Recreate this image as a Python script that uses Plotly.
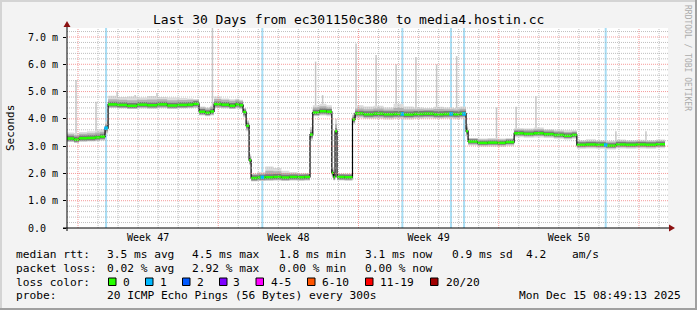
import plotly.graph_objects as go

# ---------------- data (time in days from graph start, values in ms) ----------------
t_days = [0.00, 0.35, 0.60, 1.00, 1.40, 1.65, 1.90,
          2.05, 2.50, 3.00, 3.50, 4.00, 4.50, 5.00, 5.50, 6.00, 6.30, 6.59, 6.90, 7.15, 7.34,
          7.70, 8.10, 8.40, 8.60, 8.79, 8.94, 9.09, 9.19,
          9.50, 9.90, 10.30, 10.70, 11.10, 11.50, 11.85, 12.13, 12.27, 12.60, 12.95,
          13.22, 13.30, 13.38, 13.48, 13.85, 14.25, 14.38,
          14.80, 15.30, 15.80, 16.30, 16.80, 17.30, 17.80, 18.30, 18.80, 19.30, 19.60, 19.92, 20.02,
          20.50, 21.00, 21.50, 21.90, 22.32,
          22.80, 23.30, 23.80, 24.30, 24.80, 25.20, 25.45,
          25.90, 26.40, 26.90, 27.40, 27.90, 28.40, 28.90, 29.40, 29.85]
median_ms = [3.28, 3.24, 3.29, 3.30, 3.32, 3.35, 3.66,
             4.53, 4.51, 4.48, 4.52, 4.50, 4.53, 4.49, 4.51, 4.52, 4.55, 4.26, 4.22, 4.27, 4.54,
             4.52, 4.48, 4.53, 4.50, 4.25, 3.75, 2.49, 1.83,
             1.85, 1.86, 1.87, 1.85, 1.87, 1.86, 1.87, 3.42, 4.23, 4.28, 4.26,
             2.02, 1.87, 3.55, 1.87, 1.86, 3.98, 4.20,
             4.17, 4.19, 4.17, 4.18, 4.16, 4.18, 4.19, 4.17, 4.18, 4.17, 4.19, 3.55, 3.17,
             3.12, 3.13, 3.12, 3.15, 3.47,
             3.45, 3.47, 3.44, 3.41, 3.38, 3.41, 3.05,
             3.06, 3.05, 3.02, 3.06, 3.05, 3.06, 3.05, 3.07, 3.07]
# outer smoke (lightest)
smoke_lo = [3.15, 3.12, 3.16, 3.17, 3.18, 3.20, 3.45,
            4.40, 4.38, 4.36, 4.38, 4.37, 4.39, 4.37, 4.38, 4.39, 4.40, 4.12, 4.10, 4.12, 4.40,
            4.38, 4.36, 4.38, 4.35, 4.05, 3.55, 2.30, 1.70,
            1.72, 1.72, 1.73, 1.72, 1.73, 1.72, 1.73, 3.20, 4.10, 4.12, 4.10,
            1.85, 1.74, 3.35, 1.74, 1.73, 3.80, 4.02,
            4.00, 4.00, 3.98, 4.00, 3.98, 4.00, 4.01, 4.00, 4.01, 3.99, 4.01, 3.35, 3.02,
            2.98, 2.98, 2.97, 3.00, 3.33,
            3.31, 3.32, 3.30, 3.27, 3.24, 3.27, 2.90,
            2.91, 2.90, 2.88, 2.91, 2.90, 2.91, 2.90, 2.92, 2.92]
smoke_hi = [3.50, 3.48, 3.52, 3.55, 3.58, 3.62, 3.90,
            4.85, 4.80, 4.82, 4.78, 4.84, 4.80, 4.78, 4.76, 4.75, 4.72, 4.45, 4.42, 4.48, 4.82,
            4.75, 4.72, 4.74, 4.70, 4.40, 3.95, 2.70, 2.00,
            2.05, 2.25, 2.20, 2.10, 2.05, 2.02, 2.02, 3.70, 4.50, 4.55, 4.50,
            2.20, 2.05, 4.00, 2.00, 2.00, 4.20, 4.50,
            4.45, 4.48, 4.42, 4.55, 4.45, 4.42, 4.40, 4.44, 4.42, 4.40, 4.45, 3.80, 3.30,
            3.28, 3.30, 3.28, 3.30, 3.66,
            3.65, 3.68, 3.62, 3.60, 3.58, 3.58, 3.22,
            3.25, 3.22, 3.20, 3.24, 3.22, 3.23, 3.22, 3.24, 3.22]
# middle smoke
mid_lo = [3.17, 3.13, 3.18, 3.19, 3.21, 3.23, 3.50,
          4.42, 4.40, 4.37, 4.41, 4.39, 4.42, 4.38, 4.40, 4.41, 4.43, 4.14, 4.11, 4.15, 4.42,
          4.41, 4.37, 4.42, 4.39, 4.10, 3.60, 2.35, 1.72,
          1.74, 1.75, 1.76, 1.74, 1.76, 1.75, 1.76, 3.27, 4.12, 4.16, 4.14,
          1.90, 1.76, 3.42, 1.76, 1.75, 3.85, 4.08,
          4.04, 4.05, 4.03, 4.05, 4.03, 4.05, 4.06, 4.04, 4.05, 4.04, 4.06, 3.40, 3.06,
          3.02, 3.03, 3.02, 3.05, 3.37,
          3.35, 3.37, 3.34, 3.31, 3.28, 3.31, 2.95,
          2.96, 2.95, 2.92, 2.96, 2.95, 2.96, 2.95, 2.97, 2.97]
mid_hi = [3.44, 3.40, 3.45, 3.47, 3.50, 3.53, 3.82,
          4.72, 4.70, 4.68, 4.70, 4.71, 4.72, 4.68, 4.69, 4.70, 4.70, 4.42, 4.38, 4.44, 4.73,
          4.70, 4.66, 4.70, 4.66, 4.38, 3.90, 2.65, 1.97,
          2.00, 2.10, 2.08, 2.02, 2.00, 1.98, 1.98, 3.60, 4.42, 4.46, 4.42,
          2.16, 2.00, 3.80, 1.98, 1.98, 4.14, 4.38,
          4.35, 4.38, 4.34, 4.40, 4.35, 4.35, 4.34, 4.36, 4.35, 4.34, 4.37, 3.72, 3.28,
          3.24, 3.25, 3.24, 3.26, 3.61,
          3.60, 3.62, 3.58, 3.55, 3.52, 3.54, 3.18,
          3.19, 3.18, 3.16, 3.20, 3.18, 3.19, 3.18, 3.20, 3.20]
# core smoke (darkest)
core_lo = [3.20, 3.16, 3.21, 3.22, 3.24, 3.27, 3.56,
           4.45, 4.43, 4.40, 4.44, 4.42, 4.45, 4.41, 4.43, 4.44, 4.47, 4.18, 4.14, 4.19, 4.46,
           4.44, 4.40, 4.45, 4.42, 4.15, 3.66, 2.40, 1.75,
           1.77, 1.78, 1.79, 1.77, 1.79, 1.78, 1.79, 3.32, 4.15, 4.20, 4.18,
           1.94, 1.79, 3.46, 1.79, 1.78, 3.89, 4.12,
           4.08, 4.10, 4.08, 4.09, 4.07, 4.09, 4.10, 4.08, 4.09, 4.08, 4.10, 3.46, 3.10,
           3.05, 3.06, 3.05, 3.08, 3.40,
           3.38, 3.40, 3.37, 3.34, 3.31, 3.34, 2.98,
           2.99, 2.98, 2.95, 2.99, 2.98, 2.99, 2.98, 3.00, 3.00]
core_hi = [3.38, 3.34, 3.39, 3.40, 3.42, 3.45, 3.76,
           4.63, 4.61, 4.58, 4.62, 4.60, 4.63, 4.59, 4.61, 4.62, 4.65, 4.36, 4.32, 4.37, 4.64,
           4.62, 4.58, 4.63, 4.60, 4.34, 3.85, 2.58, 1.93,
           1.95, 1.97, 1.98, 1.95, 1.96, 1.95, 1.96, 3.52, 4.33, 4.38, 4.36,
           2.12, 1.96, 3.66, 1.96, 1.95, 4.08, 4.30,
           4.28, 4.30, 4.28, 4.29, 4.27, 4.29, 4.30, 4.28, 4.29, 4.28, 4.30, 3.65, 3.25,
           3.20, 3.21, 3.20, 3.23, 3.56,
           3.54, 3.56, 3.53, 3.50, 3.47, 3.50, 3.14,
           3.15, 3.14, 3.11, 3.15, 3.14, 3.15, 3.14, 3.16, 3.16]

spike_t = [0.45, 1.45, 2.50, 3.40, 4.49, 7.26, 8.14, 12.41, 12.76, 14.43, 15.43, 16.43,
           17.42, 18.45, 19.45, 21.44, 22.42, 23.41, 27.40, 28.90]
spike_top = [5.42, 4.63, 5.00, 4.87, 4.95, 7.33, 4.70, 6.10, 4.87, 6.76, 6.34, 6.00,
             6.27, 6.00, 6.30, 4.42, 4.44, 4.83, 3.55, 3.55]
spike_base = [3.45, 3.50, 4.70, 4.70, 4.70, 4.40, 4.65, 4.40, 4.40, 4.35, 4.35, 4.35,
              4.35, 4.35, 4.35, 3.25, 3.60, 3.60, 3.20, 3.20]

loss_t = [1.95, 9.75, 16.74, 19.17, 19.82, 26.89]
loss_med = [3.66, 1.86, 4.18, 4.18, 4.18, 3.04]

week_starts = [0.55, 7.55, 14.55, 21.55, 28.55]
week_centers = [4.05, 11.05, 18.05, 25.05]
week_labels = ["Week 47", "Week 48", "Week 49", "Week 50"]
y_tickvals = [0, 1, 2, 3, 4, 5, 6, 7]
y_ticktext = ["0.0\u00a0\u00a0", "1.0 m", "2.0 m", "3.0 m", "4.0 m", "5.0 m", "6.0 m", "7.0 m"]

title_text = "Last 30 Days from ec301150c380 to media4.hostin.cc"
rtt_label = "median rtt:"
rtt_stats = ["3.5 ms avg", "4.5 ms max", "1.8 ms min", "3.1 ms now", "0.9 ms sd", "4.2", "am/s"]
loss_label = "packet loss:"
loss_stats = ["0.02 % avg", "2.92 % max", "0.00 % min", "0.00 % now"]
color_label = "loss color:"
loss_color_names = ["0", "1", "2", "3", "4-5", "6-10", "11-19", "20/20"]
loss_colors = ["#26ff00", "#00b8ff", "#0059ff", "#7e00ff", "#ff00ff", "#ff5500", "#ff0000", "#a00000"]
probe_label = "probe:"
probe_text = "20 ICMP Echo Pings (56 Bytes) every 300s"
date_text = "Mon Dec 15 08:49:13 2025"

# ---------------- layout geometry (pixels) ----------------
W, H = 697, 310
PL, PR, PT, PB = 67, 668, 28, 228
YMAX = 7.33
XMAX = 30.0
MONO = "DejaVu Sans Mono"


def px(xp):
    return (xp - PL) / (PR - PL)


def py(yp):
    return (PB - yp) / (PB - PT)


fig = go.Figure()

# loss indicator bars (full height)
lx, ly = [], []
for t in loss_t:
    lx += [t, t, None]
    ly += [0, YMAX, None]
fig.add_trace(go.Scatter(x=lx, y=ly, mode="lines", line=dict(color="#a8def5", width=2),
                         hoverinfo="skip", showlegend=False))

# spikes (behind smoke)
sx, sy = [], []
for t, b, top in zip(spike_t, spike_base, spike_top):
    sx += [t, t, None]
    sy += [b, top, None]
fig.add_trace(go.Scatter(x=sx, y=sy, mode="lines", line=dict(color="#c8c8c8", width=1.5),
                         hoverinfo="skip", showlegend=False))

# smoke bands
for lo, hi, col in [(smoke_lo, smoke_hi, "#dcdcdc"), (mid_lo, mid_hi, "#b2b2b2"), (core_lo, core_hi, "#7a7a7a")]:
    fig.add_trace(go.Scatter(x=t_days, y=lo, mode="lines", line=dict(width=0, shape="hv"),
                             hoverinfo="skip", showlegend=False))
    fig.add_trace(go.Scatter(x=t_days, y=hi, mode="lines", line=dict(width=0, shape="hv"),
                             fill="tonexty", fillcolor=col, hoverinfo="skip", showlegend=False))

# median: black step line + green horizontal pieces
fig.add_trace(go.Scatter(x=t_days, y=median_ms, mode="lines", line=dict(color="#000000", width=1.2, shape="hv"),
                         hoverinfo="skip", showlegend=False))
gx, gy = [], []
for i in range(len(t_days) - 1):
    gx += [t_days[i], t_days[i + 1], None]
    gy += [median_ms[i], median_ms[i], None]
fig.add_trace(go.Scatter(x=gx, y=gy, mode="lines", line=dict(color=loss_colors[0], width=2.5),
                         hoverinfo="skip", showlegend=False))
fig.add_trace(go.Scatter(x=loss_t, y=loss_med, mode="markers",
                         marker=dict(color=loss_colors[1], size=3.5, symbol="square"),
                         hoverinfo="skip", showlegend=False))

shapes = []
# grid (drawn over the data, like rrdtool)
gray = "rgba(170,170,170,0.75)"
red = "rgba(240,120,120,0.75)"
ylines = [round(0.2 * k, 1) for k in range(1, 37)]
for yv in ylines:
    if yv > YMAX:
        break
    major = abs(yv - round(yv)) < 1e-6
    shapes.append(dict(type="line", xref="x", yref="y", x0=0, x1=XMAX, y0=yv, y1=yv, layer="above",
                       line=dict(color=red if major else gray, width=1, dash="1px,1px")))
d = week_starts[0]
while d < XMAX:
    major = any(abs(d - w) < 1e-6 for w in week_starts)
    shapes.append(dict(type="line", xref="x", yref="y", x0=d, x1=d, y0=0, y1=YMAX, layer="above",
                       line=dict(color=red if major else gray, width=1, dash="1px,1px")))
    d = round(d + 1, 2)

# axes with arrows
axc = "#000000"
shapes.append(dict(type="line", xref="paper", yref="paper", x0=0, x1=0, y0=py(231), y1=py(24),
                   line=dict(color=axc, width=1)))
shapes.append(dict(type="line", xref="paper", yref="paper", x0=px(63), x1=px(670), y0=0, y1=0,
                   line=dict(color=axc, width=1)))
arrow_c = "#8b1010"
shapes.append(dict(type="path", xref="paper", yref="paper",
                   path=f"M {px(67)},{py(21)} L {px(63.5)},{py(27)} L {px(70.5)},{py(27)} Z",
                   fillcolor=arrow_c, line=dict(color=arrow_c, width=0)))
shapes.append(dict(type="path", xref="paper", yref="paper",
                   path=f"M {px(675)},{py(228)} L {px(669)},{py(224.5)} L {px(669)},{py(231.5)} Z",
                   fillcolor=arrow_c, line=dict(color=arrow_c, width=0)))

# image frame
shapes.append(dict(type="rect", xref="paper", yref="paper", x0=px(0), x1=px(W), y0=py(0), y1=py(2),
                   fillcolor="#d4d4d4", line=dict(width=0)))
shapes.append(dict(type="rect", xref="paper", yref="paper", x0=px(0), x1=px(2), y0=py(0), y1=py(H),
                   fillcolor="#d4d4d4", line=dict(width=0)))
shapes.append(dict(type="rect", xref="paper", yref="paper", x0=px(0), x1=px(W), y0=py(H - 2), y1=py(H),
                   fillcolor="#a0a0a0", line=dict(width=0)))
shapes.append(dict(type="rect", xref="paper", yref="paper", x0=px(W - 2), x1=px(W), y0=py(0), y1=py(H),
                   fillcolor="#a0a0a0", line=dict(width=0)))

# legend colour boxes
box_x = [108.5, 145.5, 182.5, 219.5, 256, 307.5, 365.5, 430.5]
lab_x = [123, 160, 197, 233, 270.7, 321.7, 380, 445.7]
for bx, c in zip(box_x, loss_colors):
    shapes.append(dict(type="rect", xref="paper", yref="paper", x0=px(bx), x1=px(bx + 7.5),
                       y0=py(278), y1=py(285.5), fillcolor=c, line=dict(color="#000000", width=1)))

ann = []


def text(s, xp, yp, size=11.2, anchor="left", color="#000000", angle=0):
    ann.append(dict(text=s, xref="paper", yref="paper", x=px(xp), y=py(yp), xanchor=anchor,
                    yanchor="middle", showarrow=False, textangle=angle, borderpad=0, borderwidth=0,
                    font=dict(family=MONO, size=size, color=color)))


text(title_text, 348, 19, size=13, anchor="center")
text("Seconds", 10, 128, size=11, anchor="center", angle=-90)
text("RRDTOOL / TOBI OETIKER", 688, 58, size=8, anchor="center", color="#ababab", angle=90)

stat_x = [107, 192, 279, 365, 452, 526, 572]
text(rtt_label, 16, 254.5)
for s, xx in zip(rtt_stats, stat_x):
    text(s, xx, 254.5)
text(loss_label, 16, 268)
for s, xx in zip(loss_stats, stat_x):
    text(s, xx, 268)
text(color_label, 16, 282)
for s, xx in zip(loss_color_names, lab_x):
    text(s, xx, 282)
text(probe_label, 16, 295.5)
text(probe_text, 107, 295.5)
text(date_text, 681, 295.5, anchor="right")

fig.update_layout(
    width=W, height=H, autosize=False,
    margin=dict(l=PL, r=W - PR, t=PT, b=H - PB, pad=0),
    paper_bgcolor="#f3f3f3", plot_bgcolor="#ffffff",
    shapes=shapes, annotations=ann, showlegend=False,
    xaxis=dict(range=[0, XMAX], showgrid=False, zeroline=False, showline=False,
               tickmode="array", tickvals=week_centers, ticktext=week_labels, ticks="",
               ticklabelstandoff=2,
               tickfont=dict(family=MONO, size=10, color="#000000"), fixedrange=True),
    yaxis=dict(range=[0, YMAX], showgrid=False, zeroline=False, showline=False,
               tickmode="array", tickvals=y_tickvals, ticktext=y_ticktext,
               ticks="outside", ticklen=3, tickcolor="#000000", ticklabelstandoff=3,
               tickfont=dict(family=MONO, size=10, color="#000000"), fixedrange=True),
)

fig.write_html("out.html")
